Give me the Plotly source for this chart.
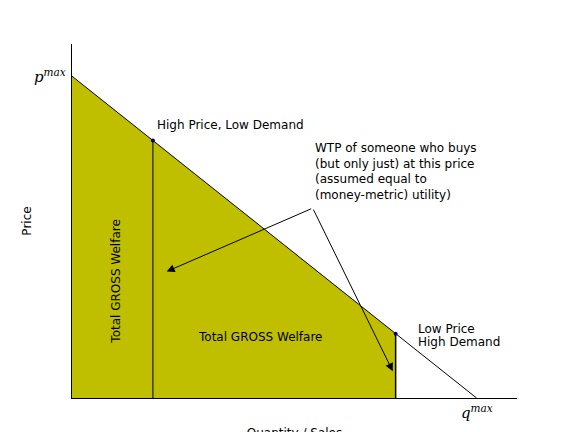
import plotly.graph_objects as go

# demand line endpoints (quantity, price)
demand_q = [0, 100]
demand_p = [100, 0]
# two price points
point_q = [20, 80]
point_p = [80, 20]
point_labels = ["High Price, Low Demand", "Low Price", "High Demand"]

olive = "#bfbf00"

fig = go.Figure()
# gross welfare area under demand up to q=80
fig.add_trace(go.Scatter(x=[0, 0, point_q[1], point_q[1]], y=[0, demand_p[0], point_p[1], 0],
                         fill="toself", fillcolor=olive, mode="lines",
                         line=dict(color=olive, width=0), hoverinfo="skip"))
fig.add_trace(go.Scatter(x=demand_q, y=demand_p, mode="lines",
                         line=dict(color="black", width=1)))
for q, p in zip(point_q, point_p):
    fig.add_trace(go.Scatter(x=[q, q], y=[0, p], mode="lines",
                             line=dict(color="black", width=1.5 if q == 80 else 1)))
fig.add_trace(go.Scatter(x=point_q, y=point_p, mode="markers",
                         marker=dict(color="navy", size=4)))

font = dict(family="DejaVu Sans", size=12, color="black")
fig.add_annotation(x=20.5, y=82, text=point_labels[0], showarrow=False,
                   xanchor="left", yanchor="bottom", font=font)
fig.add_annotation(x=85, y=21.5, text=point_labels[1], showarrow=False,
                   xanchor="left", yanchor="middle", font=font)
fig.add_annotation(x=85, y=17.5, text=point_labels[2], showarrow=False,
                   xanchor="left", yanchor="middle", font=font)
fig.add_annotation(x=59.5, y=80.5, showarrow=False, xanchor="left", yanchor="top", align="left",
                   text="WTP of someone who buys<br>(but only just) at this price<br>(assumed equal to<br>(money-metric) utility)",
                   font=font)
fig.add_annotation(x=46.5, y=19, text="Total GROSS Welfare", showarrow=False, font=font)
fig.add_annotation(x=11, y=36, text="Total GROSS Welfare", showarrow=False, textangle=-90, font=font)
# arrows
for tx, ty in [(23.4, 39.3), (79.3, 8.3)]:
    fig.add_annotation(x=tx, y=ty, ax=59.5, ay=59, xref="x", yref="y", axref="x", ayref="y",
                       text="", showarrow=True, arrowhead=2, arrowsize=1.6, arrowwidth=1,
                       arrowcolor="black")
fig.add_annotation(x=0, y=100, text="<i>p</i><sup><i>max</i></sup>", showarrow=False,
                   xanchor="right", xshift=-4, font=dict(family="DejaVu Serif", size=15, color="black"))
fig.add_annotation(x=100, y=0, text="<i>q</i><sup><i>max</i></sup>", showarrow=False,
                   yanchor="top", yshift=-2, font=dict(family="DejaVu Serif", size=15, color="black"))

fig.update_layout(width=576, height=432, showlegend=False,
                  plot_bgcolor="white", paper_bgcolor="white",
                  margin=dict(l=64, r=67, t=36, b=42, autoexpand=False),
                  xaxis=dict(range=[0, 110], showgrid=False, zeroline=False, showticklabels=False,
                             showline=True, linecolor="black", linewidth=1,
                             title=dict(text="Quantity / Sales", font=font, standoff=30)),
                  yaxis=dict(range=[0, 110], showgrid=False, zeroline=False, showticklabels=False,
                             showline=True, linecolor="black", linewidth=1,
                             title=dict(text="Price", font=font, standoff=36)))
fig.write_html("out.html")
